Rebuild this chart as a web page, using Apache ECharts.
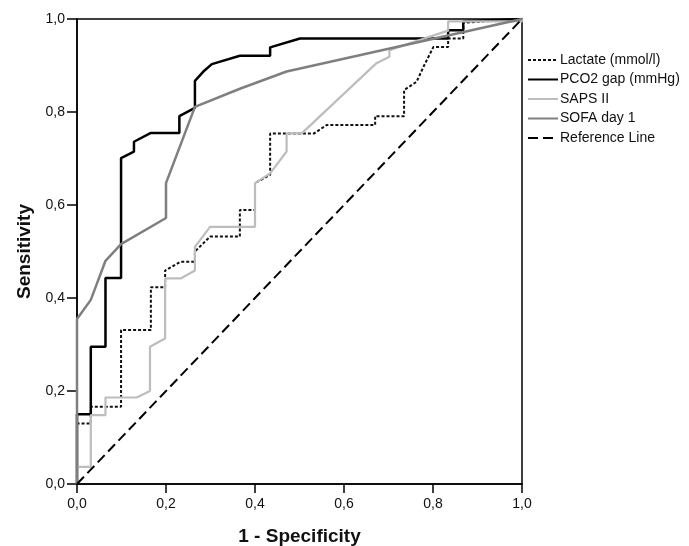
<!DOCTYPE html>
<html>
<head>
<meta charset="utf-8">
<script src="https://cdn.jsdelivr.net/npm/echarts@6/dist/echarts.min.js"></script>
<style>
  html, body { margin: 0; padding: 0; background: #fff; }
  #chart { width: 689px; height: 546px; }
</style>
</head>
<body>
<div id="chart"></div>
<script>
// ROC curves, [1 - specificity, sensitivity]
const lactate = [
  [0, 0], [0, 0.13], [0.031, 0.13], [0.031, 0.166], [0.099, 0.166], [0.099, 0.331],
  [0.166, 0.331], [0.166, 0.423], [0.198, 0.423], [0.198, 0.459], [0.233, 0.478],
  [0.265, 0.478], [0.265, 0.5], [0.299, 0.532], [0.366, 0.532], [0.366, 0.589],
  [0.4, 0.589], [0.4, 0.647], [0.434, 0.665], [0.434, 0.754], [0.533, 0.754],
  [0.561, 0.772], [0.67, 0.772], [0.67, 0.791], [0.735, 0.791], [0.735, 0.847],
  [0.763, 0.865], [0.78, 0.9], [0.801, 0.94], [0.834, 0.94], [0.834, 0.958],
  [0.868, 0.958], [0.868, 0.992], [1, 1]
]
const pco2Gap = [
  [0, 0], [0, 0.15], [0.031, 0.15], [0.031, 0.295], [0.064, 0.295], [0.064, 0.443],
  [0.099, 0.443], [0.099, 0.701], [0.128, 0.715], [0.128, 0.736], [0.166, 0.755],
  [0.23, 0.755], [0.23, 0.791], [0.265, 0.809], [0.265, 0.867], [0.284, 0.887],
  [0.303, 0.903], [0.366, 0.921], [0.434, 0.921], [0.434, 0.939], [0.501, 0.958],
  [0.834, 0.958], [0.834, 0.976], [0.868, 0.976], [0.868, 0.995], [1, 1]
]
const sapsII = [
  [0, 0], [0, 0.037], [0.031, 0.037], [0.031, 0.148], [0.064, 0.148], [0.064, 0.186],
  [0.134, 0.186], [0.164, 0.2], [0.164, 0.295], [0.198, 0.313], [0.198, 0.442],
  [0.233, 0.442], [0.265, 0.459], [0.265, 0.51], [0.299, 0.553], [0.4, 0.553],
  [0.4, 0.647], [0.434, 0.668], [0.471, 0.715], [0.471, 0.754], [0.505, 0.754],
  [0.673, 0.905], [0.702, 0.919], [0.702, 0.933], [0.834, 0.975], [0.834, 0.995],
  [1, 0.995], [1, 1]
]
const sofaDay1 = [
  [0, 0], [0, 0.355], [0.031, 0.396], [0.064, 0.48], [0.099, 0.516], [0.2, 0.572],
  [0.2, 0.647], [0.265, 0.811], [0.366, 0.85], [0.471, 0.887], [1, 1]
]
const referenceLine = [[0, 0], [1, 1]]
const axisTicks = [0, 0.2, 0.4, 0.6, 0.8, 1.0]

const font = 'Liberation Sans'
const fmt = v => v.toFixed(1).replace('.', ',')

function rocSeries(name, data, color, width, type) {
  return {
    name: name,
    type: 'line',
    data: data,
    showSymbol: false,
    symbol: 'none',
    animation: false,
    lineStyle: { color: color, width: width, type: type },
    itemStyle: { color: color }
  }
}

const chart = echarts.init(document.getElementById('chart'), null, { renderer: 'canvas' })
chart.setOption({
  backgroundColor: '#fff',
  animation: false,
  grid: {
    left: 77, top: 19, width: 445, height: 465, outerBoundsMode: 'none', containLabel: false,
    show: true, borderColor: '#000', borderWidth: 1.5
  },
  legend: {
    orient: 'vertical', left: 522, top: 48, itemWidth: 30, itemHeight: 10, itemGap: 5.5,
    itemStyle: { opacity: 0 },
    textStyle: { fontFamily: font, fontSize: 14, color: '#111', padding: [0, 0, 0, -3] },
    data: ['Lactate (mmol/l)', 'PCO2 gap (mmHg)', 'SAPS II', 'SOFA day 1', 'Reference Line']
  },
  xAxis: {
    type: 'value', min: axisTicks[0], max: axisTicks[axisTicks.length - 1], interval: 0.2,
    name: '1 - Specificity', nameLocation: 'middle', nameGap: 43,
    nameTextStyle: { fontFamily: font, fontSize: 19, fontWeight: 'bold', color: '#111' },
    axisLine: { lineStyle: { color: '#000', width: 1.5 } },
    axisTick: { show: true, length: 9, lineStyle: { color: '#000', width: 1.5 } },
    axisLabel: { formatter: fmt, fontFamily: font, fontSize: 14, color: '#111', margin: 13 },
    splitLine: { show: false }
  },
  yAxis: {
    type: 'value', min: axisTicks[0], max: axisTicks[axisTicks.length - 1], interval: 0.2,
    name: 'Sensitivity', nameLocation: 'middle', nameGap: 37, nameRotate: 90,
    nameTextStyle: { fontFamily: font, fontSize: 19, fontWeight: 'bold', color: '#111' },
    axisLine: { lineStyle: { color: '#000', width: 1.5 } },
    axisTick: { show: true, length: 10, lineStyle: { color: '#000', width: 1.5 } },
    axisLabel: { formatter: fmt, fontFamily: font, fontSize: 14, color: '#111', margin: 12 },
    splitLine: { show: false }
  },
  series: [
    rocSeries('Lactate (mmol/l)', lactate, '#111', 2, [3, 2]),
    rocSeries('PCO2 gap (mmHg)', pco2Gap, '#000', 2.5, 'solid'),
    rocSeries('SAPS II', sapsII, '#bdbdbd', 2.2, 'solid'),
    rocSeries('SOFA day 1', sofaDay1, '#7f7f7f', 2.5, 'solid'),
    rocSeries('Reference Line', referenceLine, '#000', 2, [10, 5])
  ]
})
</script>
</body>
</html>
